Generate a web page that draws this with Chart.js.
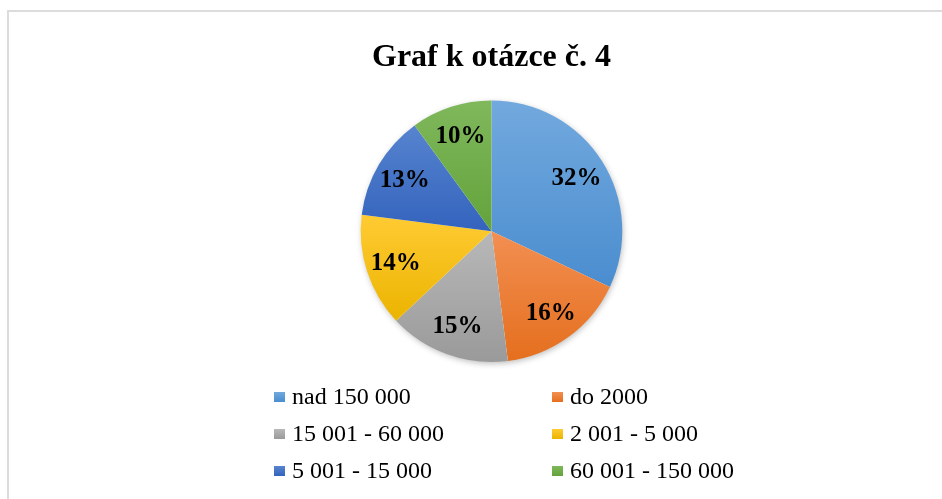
<!DOCTYPE html>
<html>
<head>
<meta charset="utf-8">
<script src="https://cdn.jsdelivr.net/npm/chart.js@4.4.1/dist/chart.umd.min.js"></script>
<style>
  html, body { margin: 0; padding: 0; background: #fff; width: 942px; height: 499px; overflow: hidden; }
  #frame { position: absolute; left: 7px; top: 10px; width: 935px; height: 489px;
           border-left: 2px solid #dcdcdc; border-top: 2px solid #dcdcdc; box-sizing: border-box; }
  #c { position: absolute; left: 0; top: 0; }
</style>
</head>
<body>
<div id="frame"></div>
<canvas id="c" width="942" height="499"></canvas>
<script>
const titleText = "Graf k otázce č. 4";
const categories = ["nad 150 000", "do 2000", "15 001 - 60 000", "2 001 - 5 000", "5 001 - 15 000", "60 001 - 150 000"];
const shares = [32, 16, 15, 14, 13, 10];
const baseColors = ["#5B9BD5", "#ED7D31", "#A5A5A5", "#FFC000", "#4472C4", "#70AD47"];
const lightColors = ["#72A9DE", "#F28F52", "#B8B8B8", "#FFCB33", "#5784CF", "#80B85C"];
const darkColors  = ["#4A8DCF", "#E56F1E", "#9A9A9A", "#EBB400", "#3363BD", "#63A33B"];

const SERIF = '"Liberation Serif", "Times New Roman", serif';

function sliceFill(context) {
  const chart = context.chart;
  const ca = chart.chartArea;
  const i = context.dataIndex;
  if (!ca || i === undefined) return baseColors[i] || '#888';
  const cx = (ca.left + ca.right) / 2, cy = (ca.top + ca.bottom) / 2;
  const r = Math.min(ca.right - ca.left, ca.bottom - ca.top) / 2;
  const data = chart.data.datasets[0].data;
  const total = data.reduce((a, b) => a + b, 0);
  let acc = 0;
  for (let k = 0; k < i; k++) acc += data[k];
  const a0 = -Math.PI / 2 + acc / total * 2 * Math.PI;
  const a1 = a0 + data[i] / total * 2 * Math.PI;
  let ys = [cy, cy + r * Math.sin(a0), cy + r * Math.sin(a1)];
  for (let s = 40; s >= 0; s--) ys.push(cy + r * Math.sin(a0 + (a1 - a0) * s / 40));
  const top = Math.min(...ys), bot = Math.max(...ys);
  const g = chart.ctx.createLinearGradient(0, top, 0, bot + 0.01);
  g.addColorStop(0, lightColors[i]);
  g.addColorStop(1, darkColors[i]);
  return g;
}

const shadowPlugin = {
  id: 'pieShadow',
  beforeDatasetsDraw(chart) {
    const arc = chart.getDatasetMeta(0).data[0];
    if (!arc) return;
    const ctx = chart.ctx;
    ctx.save();
    ctx.shadowColor = 'rgba(0,0,0,0.28)';
    ctx.shadowBlur = 6;
    ctx.shadowOffsetX = 1;
    ctx.shadowOffsetY = 2;
    ctx.fillStyle = '#ffffff';
    ctx.beginPath();
    ctx.arc(arc.x, arc.y, arc.outerRadius - 0.5, 0, Math.PI * 2);
    ctx.fill();
    ctx.restore();
  }
};

const labelPlugin = {
  id: 'sliceLabels',
  afterDatasetsDraw(chart) {
    const ctx = chart.ctx;
    const meta = chart.getDatasetMeta(0);
    const data = chart.data.datasets[0].data;
    const total = data.reduce((a, b) => a + b, 0);
    ctx.save();
    ctx.font = 'bold 25px ' + SERIF;
    ctx.fillStyle = '#000';
    ctx.textAlign = 'center';
    ctx.textBaseline = 'middle';
    meta.data.forEach((arc, i) => {
      const mid = (arc.startAngle + arc.endAngle) / 2;
      const rr = arc.outerRadius * 0.77;
      const x = arc.x + Math.cos(mid) * rr;
      const y = arc.y + Math.sin(mid) * rr;
      ctx.fillText(Math.round(data[i] / total * 100) + '%', x, y + 1);
    });
    ctx.restore();
  }
};

const legendPlugin = {
  id: 'gridLegend',
  afterDraw(chart) {
    const ctx = chart.ctx;
    const labels = chart.data.labels;
    const colX = [274, 552];
    const rowY = [397, 434, 471];
    ctx.save();
    ctx.font = '24px ' + SERIF;
    ctx.textAlign = 'left';
    ctx.textBaseline = 'middle';
    labels.forEach((lab, i) => {
      const col = i % 2, row = Math.floor(i / 2);
      const x = colX[col], y = rowY[row];
      const g = ctx.createLinearGradient(0, y - 5, 0, y + 5);
      g.addColorStop(0, lightColors[i]);
      g.addColorStop(1, darkColors[i]);
      ctx.fillStyle = g;
      ctx.fillRect(x, y - 5, 11, 10);
      ctx.fillStyle = '#000';
      ctx.fillText(lab, x + 18, y + 1);
    });
    ctx.restore();
  }
};

new Chart(document.getElementById('c'), {
  type: 'pie',
  data: {
    labels: categories,
    datasets: [{
      data: shares,
      backgroundColor: sliceFill,
      borderWidth: 0,
      hoverOffset: 0
    }]
  },
  options: {
    responsive: false,
    animation: false,
    events: [],
    layout: { padding: { top: 0, left: 41, right: 0, bottom: 137 } },
    plugins: {
      legend: { display: false },
      tooltip: { enabled: false },
      title: {
        display: true,
        text: titleText,
        color: '#000',
        font: { family: SERIF, size: 32, weight: 'bold', lineHeight: 1.2 },
        padding: { top: 39, bottom: 23 }
      }
    }
  },
  plugins: [shadowPlugin, labelPlugin, legendPlugin]
});
</script>
</body>
</html>
